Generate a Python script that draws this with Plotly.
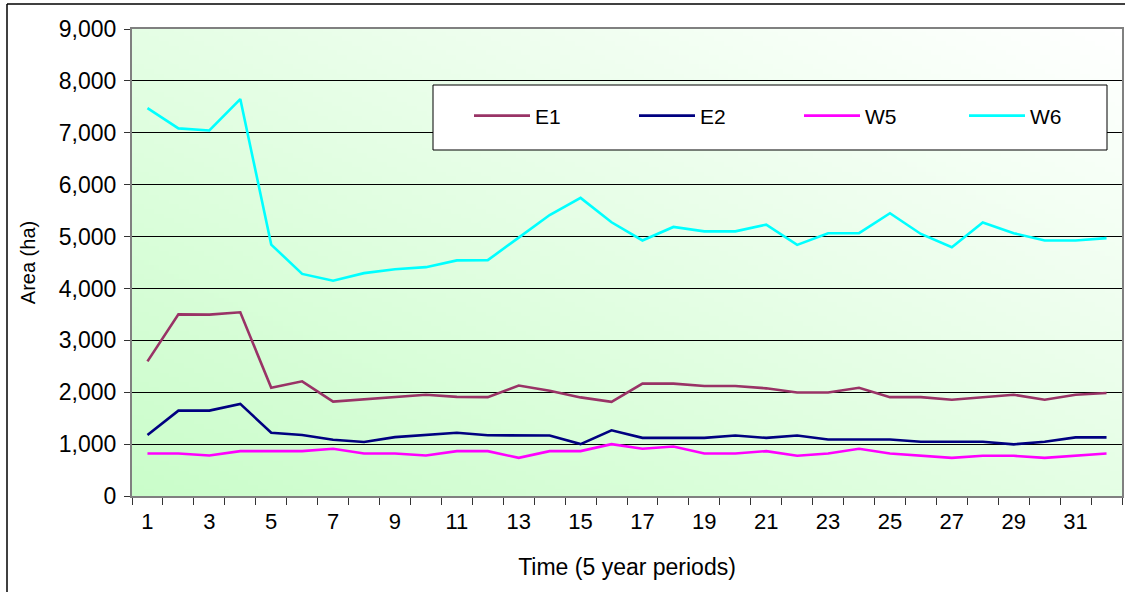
import base64
import struct
import zlib

import plotly.graph_objects as go

# Time periods (5-year steps)
periods = list(range(1, 33))

# Area by stratum (ha)
e1 = [2595, 3500, 3495, 3540, 2085, 2210, 1820, 1860, 1910, 1950, 1910, 1905,
      2130, 2030, 1900, 1815, 2165, 2165, 2120, 2120, 2075, 1995, 1995, 2085,
      1905, 1905, 1855, 1905, 1950, 1855, 1950, 1985]
e2 = [1175, 1645, 1645, 1775, 1220, 1175, 1085, 1040, 1135, 1175, 1220, 1170,
      1165, 1165, 1000, 1265, 1120, 1120, 1120, 1165, 1120, 1165, 1090, 1090,
      1090, 1045, 1045, 1045, 995, 1045, 1130, 1130]
w5 = [820, 820, 780, 865, 865, 865, 910, 820, 820, 780, 865, 865,
      735, 865, 865, 1000, 910, 955, 820, 820, 865, 775, 820, 910,
      820, 775, 735, 775, 775, 735, 775, 820]
w6 = [7475, 7085, 7045, 7650, 4845, 4280, 4150, 4295, 4370, 4410, 4540, 4545,
      4980, 5415, 5745, 5275, 4925, 5185, 5100, 5100, 5230, 4840, 5065, 5065,
      5450, 5050, 4795, 5270, 5065, 4925, 4925, 4970]

series_names = ["E1", "E2", "W5", "W6"]
series_colors = ["#993366", "#000080", "#ff00ff", "#00ffff"]

x_tick_labels = [str(v) for v in range(1, 33, 2)]
y_tick_values = list(range(0, 9001, 1000))

W, H = 1125, 592
L, R, T, B = 132, 3, 29, 96
plot_w = W - L - R
plot_h = H - T - B


def gradient_png(w, h, c0, c1):
    """Diagonal gradient: c0 at bottom-left, c1 at top-right."""
    rows = []
    for j in range(h):
        v = 1 - j / (h - 1)  # 0 at bottom
        row = bytearray([0])
        for i in range(w):
            u = i / (w - 1)
            t = (u + v) / 2
            row += bytes(int(round(c0[k] + (c1[k] - c0[k]) * t)) for k in range(3))
        rows.append(bytes(row))
    raw = b"".join(rows)

    def chunk(tag, data):
        c = struct.pack(">I", len(data)) + tag + data
        return c + struct.pack(">I", zlib.crc32(tag + data) & 0xFFFFFFFF)

    png = b"\x89PNG\r\n\x1a\n"
    png += chunk(b"IHDR", struct.pack(">IIBBBBB", w, h, 8, 2, 0, 0, 0))
    png += chunk(b"IDAT", zlib.compress(raw, 9))
    png += chunk(b"IEND", b"")
    return "data:image/png;base64," + base64.b64encode(png).decode()


bg = gradient_png(200, 100, (202, 253, 202), (255, 255, 255))

fig = go.Figure()
for name, color, vals in zip(series_names, series_colors, [e1, e2, w5, w6]):
    fig.add_trace(go.Scatter(
        x=periods, y=vals, mode="lines", name=name,
        line=dict(color=color, width=2.6),
    ))

font_family = "Liberation Sans, Arial, sans-serif"


def px_x(p):
    return (p - L) / plot_w


def px_y(p):
    return (H - B - p) / plot_h


fig.update_layout(
    width=W, height=H,
    margin=dict(l=L, r=R, t=T, b=B, autoexpand=False),
    paper_bgcolor="white",
    plot_bgcolor="white",
    font=dict(family=font_family, size=20, color="black"),
    showlegend=True,
    legend=dict(
        orientation="h",
        x=px_x(469), xanchor="left",
        y=px_y(116), yanchor="middle",
        bgcolor="rgba(0,0,0,0)",
        borderwidth=0,
        entrywidth=94,
        itemwidth=56,
        font=dict(size=21),
    ),
    xaxis=dict(
        range=[0.5, 32.5],
        tickmode="array",
        tickvals=list(range(1, 33, 2)),
        ticktext=x_tick_labels,
        ticks="",
        ticklabelstandoff=5,
        showgrid=False,
        zeroline=False,
        showline=True, linecolor="#808080", linewidth=2, mirror=True,
        minor=dict(tick0=0.5, dtick=1, ticks="outside", ticklen=7,
                   tickcolor="#333333", tickwidth=1, showgrid=False),
        tickfont=dict(size=22),
        title=dict(text="Time (5 year periods)", font=dict(size=23), standoff=25),
    ),
    yaxis=dict(
        range=[0, 9000],
        tickmode="array",
        tickvals=y_tick_values,
        ticktext=[f"{v:,}" for v in y_tick_values],
        ticks="outside", ticklen=6, tickcolor="#333333",
        ticklabelstandoff=3,
        showgrid=True, gridcolor="black", gridwidth=1,
        zeroline=False,
        showline=True, linecolor="#808080", linewidth=2, mirror=True,
        tickfont=dict(size=23),
        title=dict(text="Area (ha)", font=dict(size=20), standoff=18),
    ),
    images=[dict(
        source=bg, xref="paper", yref="paper",
        x=0, y=1, sizex=1, sizey=1,
        xanchor="left", yanchor="top",
        sizing="stretch", layer="below",
    )],
    shapes=[
        # legend frame
        dict(type="rect", xref="paper", yref="paper",
             x0=px_x(433), x1=px_x(1107), y0=px_y(150), y1=px_y(85),
             fillcolor="white", line=dict(color="black", width=1), layer="above"),
        # outer chart frame
        dict(type="line", xref="paper", yref="paper",
             x0=px_x(7), x1=px_x(7), y0=px_y(4), y1=px_y(600),
             line=dict(color="black", width=1.5)),
        dict(type="line", xref="paper", yref="paper",
             x0=px_x(7), x1=px_x(1130), y0=px_y(4), y1=px_y(4),
             line=dict(color="black", width=1.5)),
    ],
)

fig.write_html("out.html")
